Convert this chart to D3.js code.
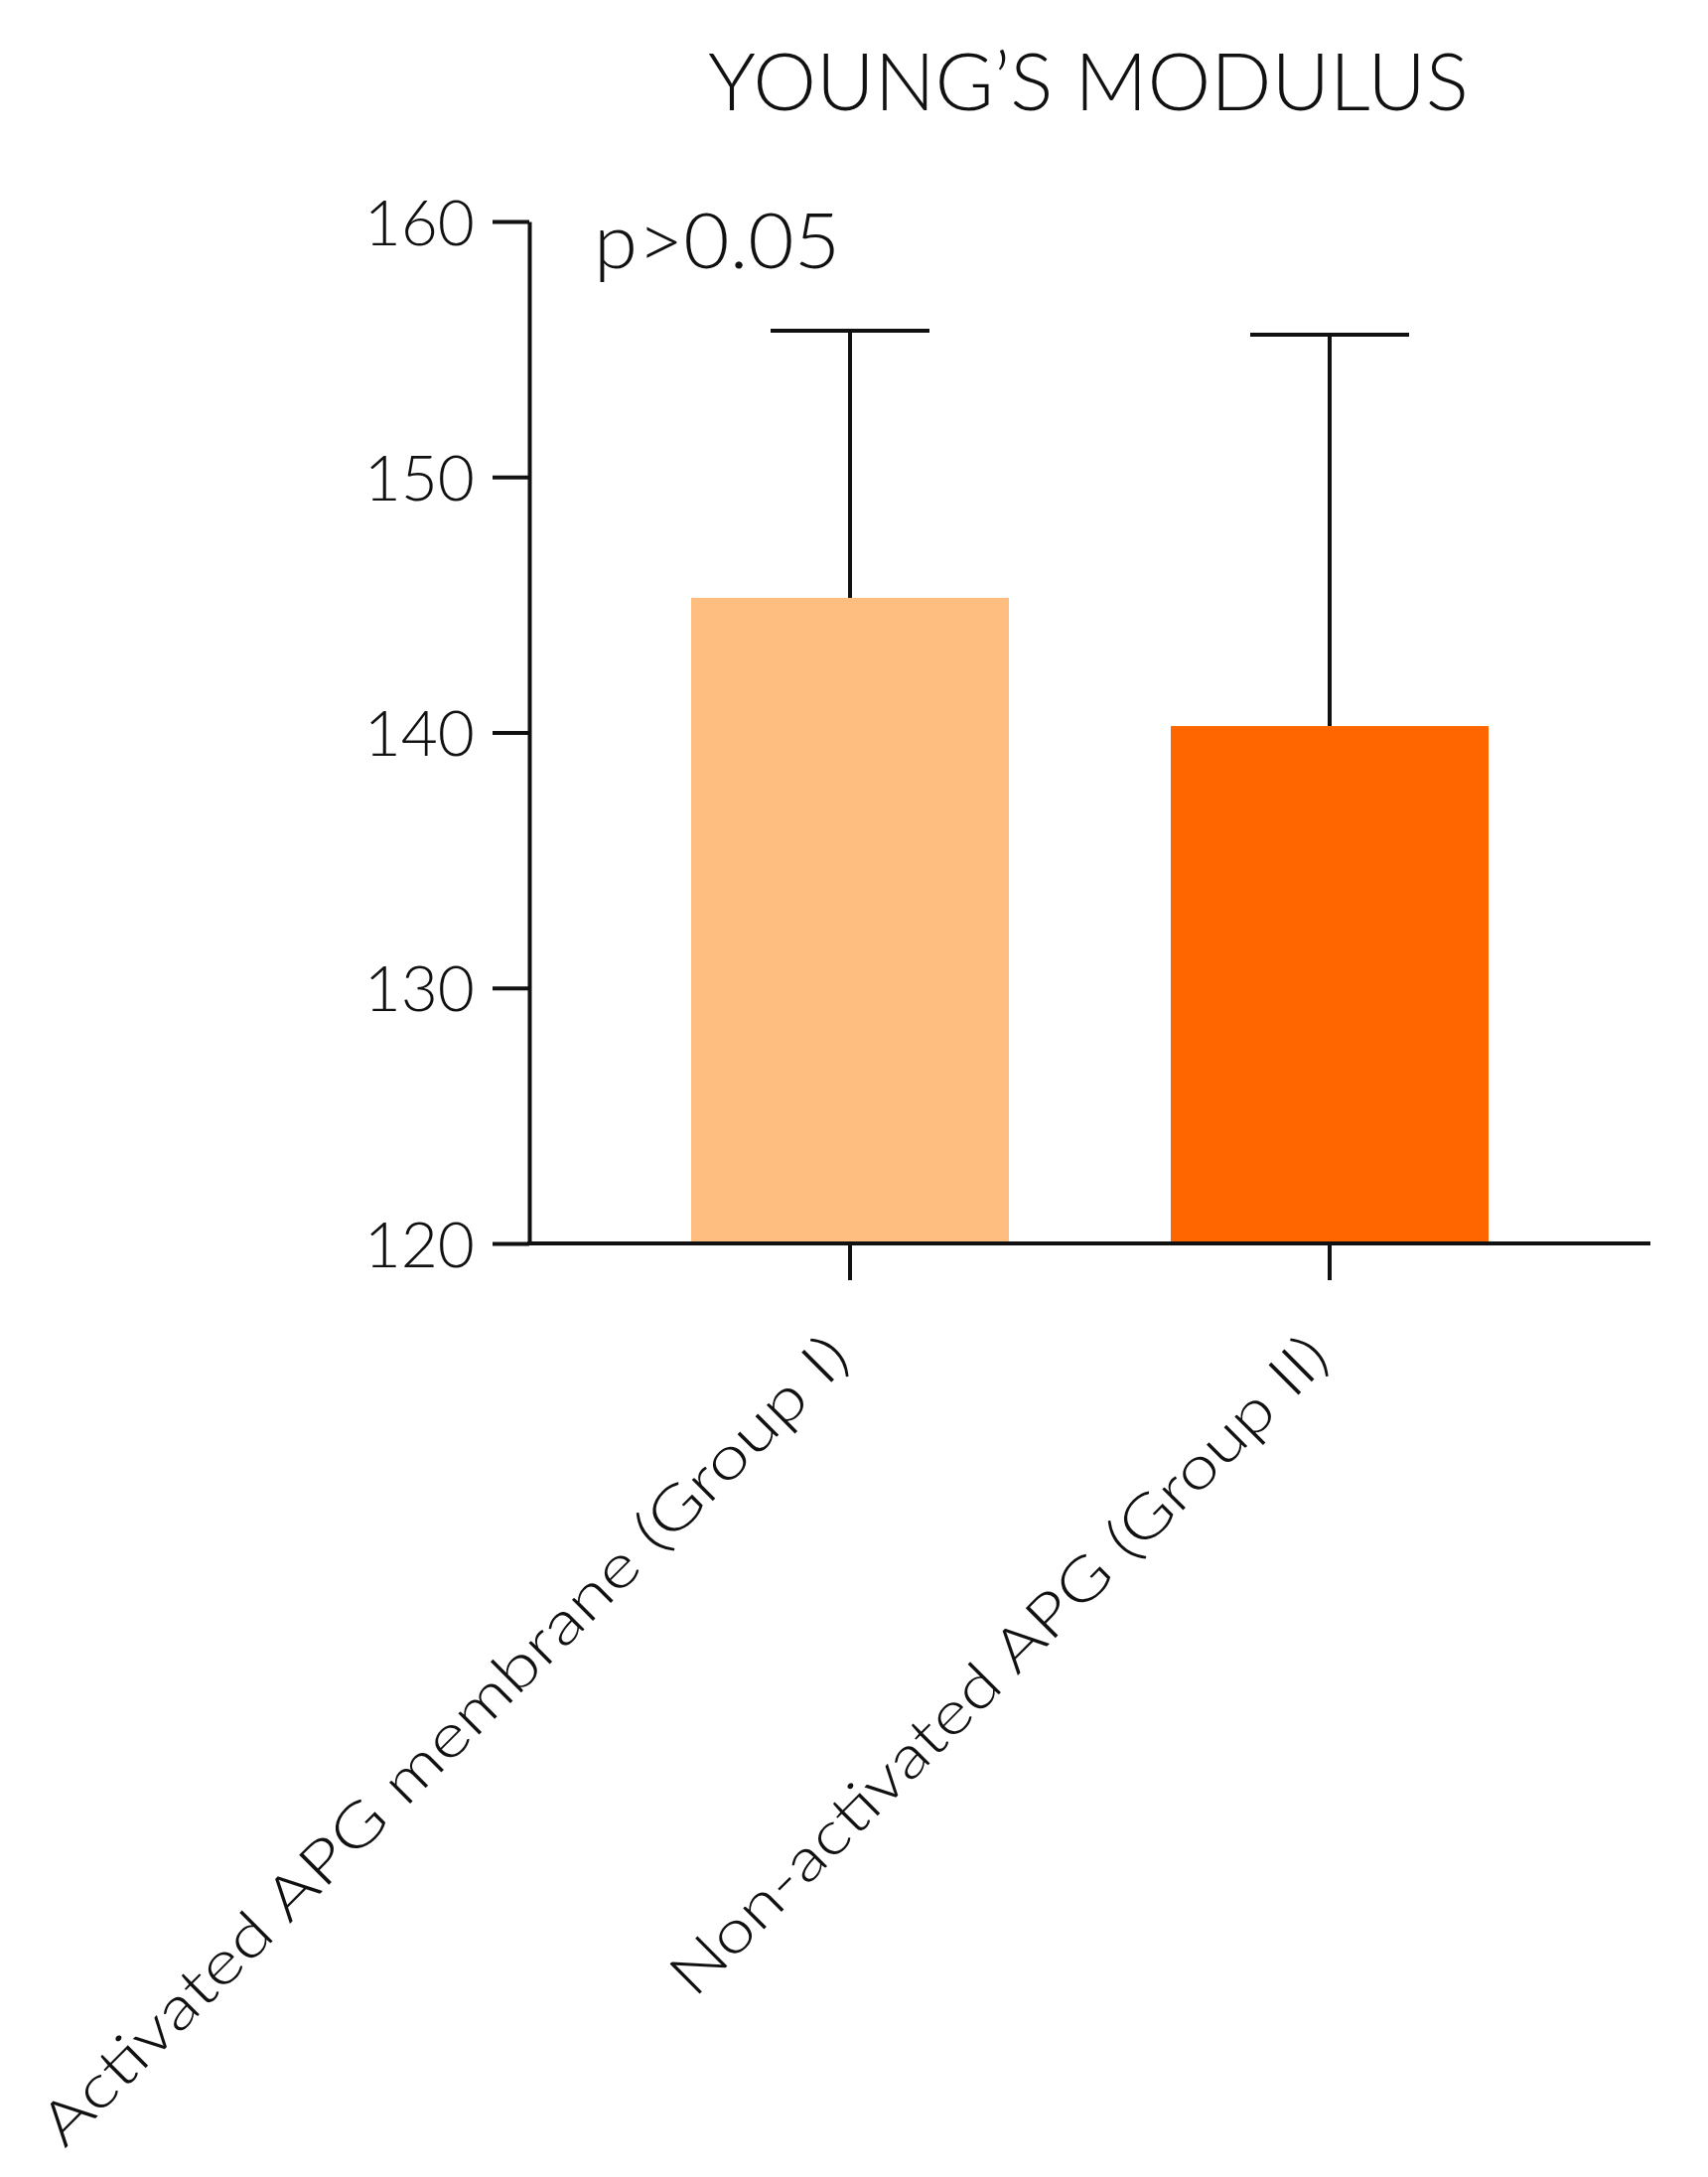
<!DOCTYPE html>
<html>
<head>
<meta charset="utf-8">
<title>Young's modulus</title>
<script src="https://d3js.org/d3.v7.min.js"></script>
<style>
  body { margin: 0; background: #fff; }
  text { font-family: "Lato", "DejaVu Sans", sans-serif; font-weight: 300; fill: #111; }
  .axis path, .axis line { stroke: #111; stroke-width: 4px; }
</style>
</head>
<body>
<svg id="chart" width="1720" height="2192"></svg>
<script>
// data
var groups = ["Activated APG membrane (Group I)", "Non-activated APG (Group II)"];
var means = [145.27, 140.25];
var sds = [10.45, 15.32];
var barColors = ["#fdbe7f", "#ff6600"];
var yTicks = [120, 130, 140, 150, 160];
var title = "YOUNG\u2019S MODULUS";
var note = "p>0.05";

var svg = d3.select("#chart");

var x = d3.scaleBand().domain(groups).range([533, 1662]).padding(0.3375);
var y = d3.scaleLinear().domain([120, 160]).range([1252, 223]);

// bars
svg.append("g").selectAll("rect")
    .data(groups)
    .enter().append("rect")
    .attr("x", function(d) { return x(d); })
    .attr("y", function(d, i) { return y(means[i]); })
    .attr("width", x.bandwidth())
    .attr("height", function(d, i) { return y(120) - y(means[i]); })
    .attr("fill", function(d, i) { return barColors[i]; });

// error bars (upper only)
var capHalf = 80;
var err = svg.append("g").attr("stroke", "#111").attr("stroke-width", 4);
groups.forEach(function(g, i) {
    var cx = x(g) + x.bandwidth() / 2;
    err.append("line")
        .attr("x1", cx).attr("x2", cx)
        .attr("y1", y(means[i])).attr("y2", y(means[i] + sds[i]));
    err.append("line")
        .attr("x1", cx - capHalf).attr("x2", cx + capHalf)
        .attr("y1", y(means[i] + sds[i])).attr("y2", y(means[i] + sds[i]));
});

// y axis
var yAxis = svg.append("g").attr("class", "axis")
    .attr("transform", "translate(533,0)")
    .call(d3.axisLeft(y).tickValues(yTicks).tickSize(37).tickSizeOuter(0).tickPadding(18));
yAxis.selectAll("text")
    .style("font-size", "64px")
    .style("font-family", "Lato, sans-serif")
    .attr("dy", "0.36em");

// x axis
var xAxis = svg.append("g").attr("class", "axis")
    .attr("transform", "translate(0,1252)")
    .call(d3.axisBottom(x).tickSize(37).tickSizeOuter(0));
xAxis.select(".domain").attr("d", "M531,0H1662");
xAxis.selectAll("text")
    .attr("x", 0).attr("y", 0).attr("dy", null)
    .attr("text-anchor", "end")
    .attr("transform", "translate(3,118) rotate(-45)")
    .style("font-size", "60px")
    .style("font-family", "Lato, sans-serif")
    .each(function(d, i) {
        var target = [1123, 909][i];
        d3.select(this).attr("textLength", target).attr("lengthAdjust", "spacingAndGlyphs");
    });

// title
svg.append("text")
    .attr("x", 1096).attr("y", 111)
    .attr("text-anchor", "middle")
    .attr("textLength", 766)
    .attr("lengthAdjust", "spacingAndGlyphs")
    .style("font-size", "80px")
    .text(title);

// significance note
svg.append("text")
    .attr("x", 598).attr("y", 270)
    .attr("textLength", 248)
    .attr("lengthAdjust", "spacingAndGlyphs")
    .style("font-size", "76px")
    .text(note);
</script>
</body>
</html>
